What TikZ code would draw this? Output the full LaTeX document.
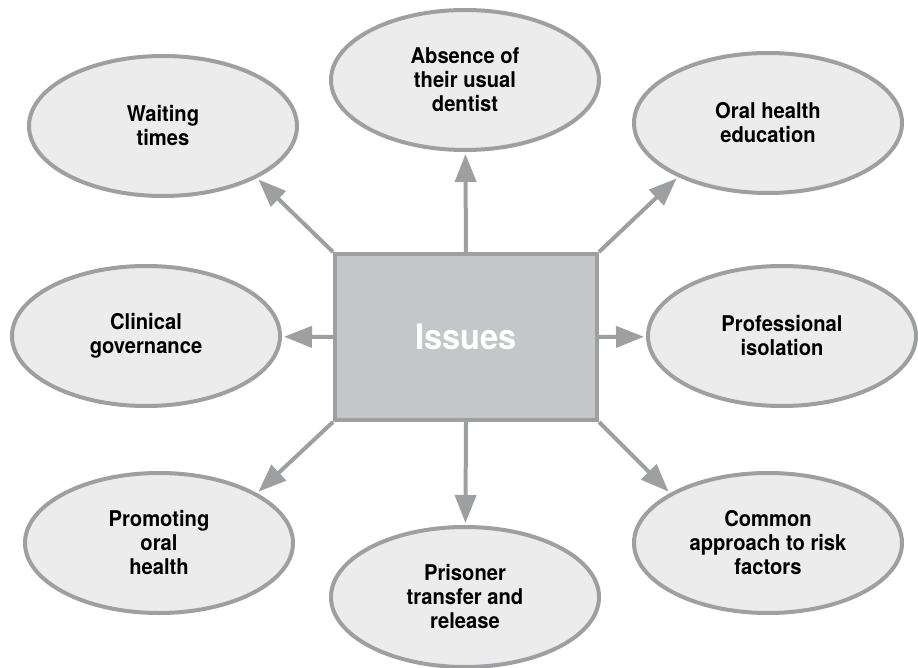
\documentclass[tikz,border=0pt]{standalone}
\usepackage{fontspec}
\setmainfont{TeX Gyre Heros}[FakeStretch=0.93]
\usepackage{tikz}
\usetikzlibrary{arrows.meta, positioning, shapes.geometric, calc}
\definecolor{rimgray}{HTML}{9E9FA1}
\definecolor{boxgray}{HTML}{C5C6C8}
\definecolor{bubblegray}{HTML}{ECECEC}

\begin{document}
\begin{tikzpicture}[x=1pt, y=-1pt,
    bubble/.style={ellipse, draw=rimgray, fill=bubblegray, line width=4pt,
        minimum width=268pt, minimum height=140pt, inner sep=0pt,
        align=center, font=\bfseries\fontsize{21.7}{24}\selectfont},
    hub/.style={rectangle, draw=rimgray, fill=boxgray, line width=4pt,
        minimum width=262pt, minimum height=166pt, text=white,
        font=\bfseries\fontsize{35}{38}\selectfont},
    spoke/.style={draw=rimgray, line width=4pt,
        -{Triangle[length=28pt, width=21pt]}, shorten >=2pt}]
    \useasboundingbox (0,0) rectangle (918,668);

    % Centre box
    \node[hub] (issues) at (466,337) {Issues};

    % Surrounding topics
    \node[bubble] (waiting)  at (163,126) {Waiting\\times};
    \node[bubble] (absence)  at (465,80)  {Absence of\\their usual\\dentist};
    \node[bubble] (oralEdu)  at (768,123) {Oral health\\education};
    \node[bubble] (clinical) at (146,336) {Clinical\\governance};
    \node[bubble] (isolate)  at (782,336) {Professional\\isolation};
    \node[bubble] (promote)  at (159,543) {Promoting\\oral\\health};
    \node[bubble] (prisoner) at (465,597) {Prisoner\\transfer and\\release};
    \node[bubble] (riskfac)  at (768,543) {Common\\approach to risk\\factors};

    % Arrows out of the box
    \draw[spoke] (issues.north west) -- (waiting.-29);
    \draw[spoke] (issues.north) -- (absence);
    \draw[spoke] (issues.north east) -- (oralEdu.211);
    \draw[spoke] (issues.west) -- (clinical);
    \draw[spoke] (issues.east) -- (isolate);
    \draw[spoke] (issues.south west) -- (promote.27);
    \draw[spoke] (issues.south) -- (prisoner);
    \draw[spoke] (issues.south east) -- (riskfac.153);
\end{tikzpicture}
\end{document}
